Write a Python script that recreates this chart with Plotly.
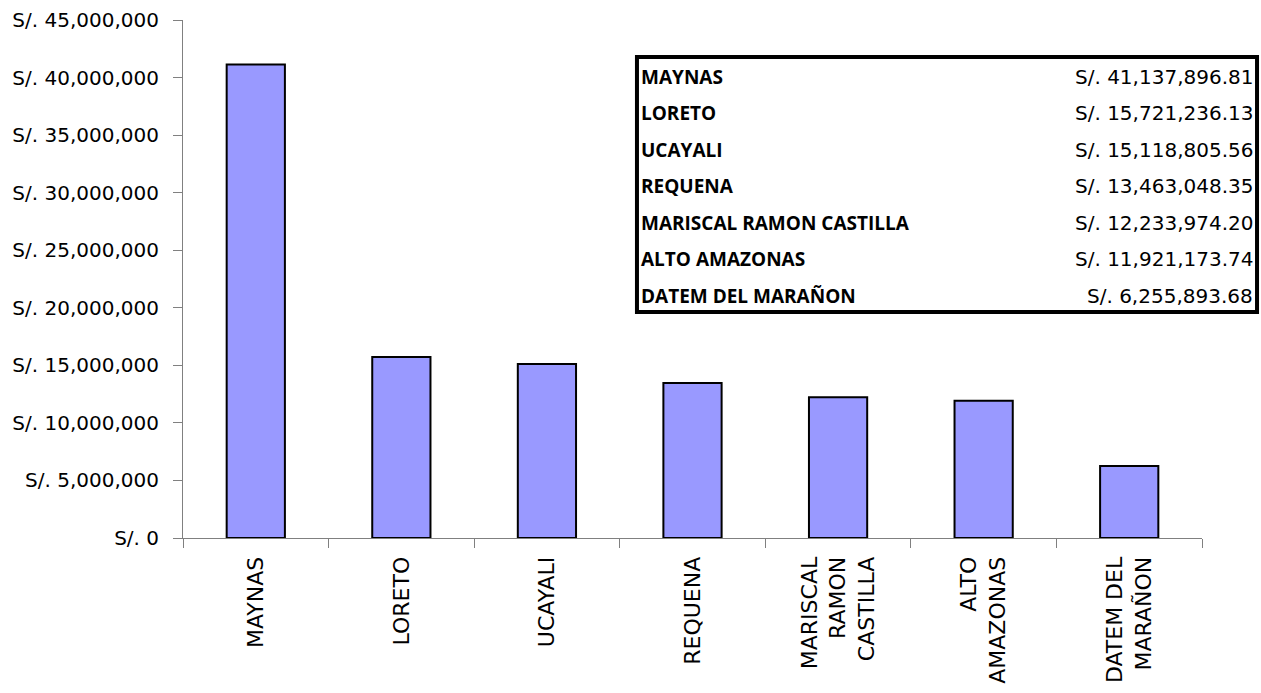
import plotly.graph_objects as go

categories = ["MAYNAS", "LORETO", "UCAYALI", "REQUENA",
              "MARISCAL RAMON CASTILLA", "ALTO AMAZONAS", "DATEM DEL MARAÑON"]
tick_labels = ["MAYNAS", "LORETO", "UCAYALI", "REQUENA",
               "MARISCAL<br>RAMON<br>CASTILLA", "ALTO<br>AMAZONAS", "DATEM DEL<br>MARAÑON"]
values = [41137896.81, 15721236.13, 15118805.56, 13463048.35,
          12233974.20, 11921173.74, 6255893.68]

FONT = "DejaVu Sans"
BOLD_FONT = "Open Sans"

fig = go.Figure()
fig.add_trace(go.Bar(
    x=categories, y=values,
    marker=dict(color="#9999FF", line=dict(color="black", width=2)),
    width=0.4,
))

fig.update_layout(
    width=1261, height=693,
    margin=dict(l=183, r=59, t=20, b=155),
    plot_bgcolor="white", paper_bgcolor="white",
    showlegend=False,
    font=dict(family=FONT, size=20, color="black"),
)
fig.update_xaxes(
    tickmode="array", tickvals=categories, ticktext=tick_labels,
    tickangle=-90, tickson="boundaries", ticks="outside", ticklen=9,
    tickcolor="#808080", showline=True, linecolor="#808080", linewidth=1,
    showgrid=False, tickfont=dict(family=FONT, size=22), ticklabelstandoff=9,
    automargin=False,
)
fig.update_yaxes(
    range=[0, 45000000], dtick=5000000, tickprefix="S/. ", tickformat=",d",
    ticks="outside", ticklen=9, tickcolor="#808080",
    showline=True, linecolor="#808080", linewidth=1,
    showgrid=False, zeroline=False, tickfont=dict(family=FONT, size=20),
    ticklabelstandoff=10, automargin=False,
)

# Data table box
x0, x1 = 0.4455, 1.054
y_top, y_bot = 0.9286, 0.4363
fig.add_shape(type="rect", xref="paper", yref="paper", x0=x0, x1=x1, y0=y_bot, y1=y_top,
              line=dict(color="black", width=4), fillcolor="white")
n = len(categories)
row_h = (y_top - y_bot) / n
for i, (c, v) in enumerate(zip(categories, values)):
    yc = y_top - (i + 0.55) * row_h
    fig.add_annotation(xref="paper", yref="paper", x=x0 + 0.002, y=yc, text="<b>%s</b>" % c,
                       showarrow=False, xanchor="left", yanchor="middle",
                       font=dict(family=BOLD_FONT, size=19, color="black"))
    fig.add_annotation(xref="paper", yref="paper", x=x1 - 0.002, y=yc, text="S/. {:,.2f}".format(v),
                       showarrow=False, xanchor="right", yanchor="middle",
                       font=dict(family=FONT, size=20, color="black"))

fig.write_html("out.html", config={"displayModeBar": False},
               post_script="document.body.style.margin='0';document.body.style.overflow='hidden';")
